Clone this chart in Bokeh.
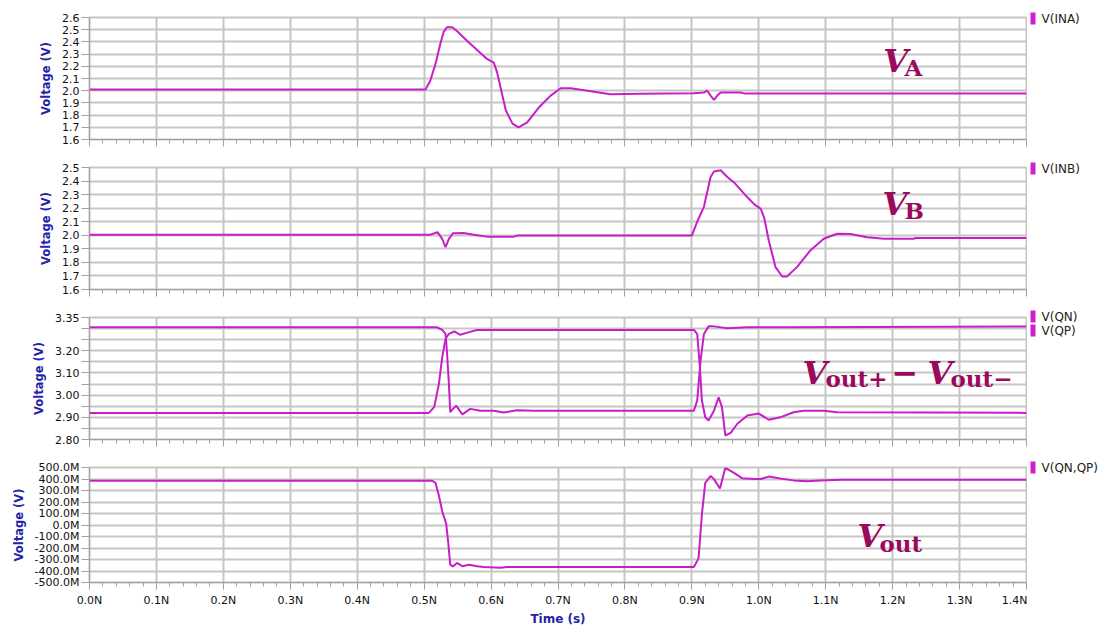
from bokeh.plotting import figure
from bokeh.models import Range1d, FixedTicker, Label
from bokeh.layouts import column, row
from bokeh.core.properties import value
from bokeh.embed import file_html
from bokeh.resources import INLINE

# ---------------- data (time in ns, voltage in V) ----------------
t_ina = [0.0, 0.502, 0.509, 0.517, 0.524, 0.529, 0.534, 0.542, 0.549, 0.564, 0.582, 0.594,
         0.604, 0.609, 0.614, 0.622, 0.632, 0.641, 0.654, 0.671, 0.689, 0.704, 0.719, 0.744,
         0.778, 0.823, 0.903, 0.918, 0.923, 0.928, 0.933, 0.938, 0.943, 0.973, 0.978, 1.4]
v_ina = [2.01, 2.01, 2.08, 2.22, 2.38, 2.48, 2.52, 2.52, 2.49, 2.41, 2.32, 2.26,
         2.23, 2.15, 2.03, 1.84, 1.73, 1.70, 1.74, 1.86, 1.96, 2.02, 2.02, 2.00,
         1.97, 1.975, 1.98, 1.985, 2.0, 1.96, 1.925, 1.96, 1.985, 1.985, 1.978, 1.978]

t_inb = [0.0, 0.509, 0.520, 0.527, 0.532, 0.537, 0.543, 0.559, 0.579, 0.594, 0.634, 0.640,
         0.900, 0.908, 0.918, 0.928, 0.933, 0.943, 0.953, 0.963, 0.983, 0.993, 1.003, 1.008,
         1.015, 1.025, 1.035, 1.042, 1.057, 1.077, 1.097, 1.117, 1.137, 1.162, 1.187, 1.231,
         1.235, 1.4]
v_inb = [2.004, 2.004, 2.023, 1.974, 1.912, 1.974, 2.015, 2.017, 2.0, 1.99, 1.99, 1.998,
         1.998, 2.10, 2.21, 2.43, 2.47, 2.48, 2.43, 2.39, 2.28, 2.23, 2.195, 2.13,
         1.96, 1.765, 1.696, 1.696, 1.765, 1.888, 1.974, 2.011, 2.01, 1.986, 1.974, 1.974,
         1.98, 1.98]

t_qn = [0.0, 0.519, 0.527, 0.532, 0.534, 0.537, 0.539, 0.543, 0.548, 0.557, 0.569, 0.584,
        0.604, 0.619, 0.639, 0.664, 0.903, 0.908, 0.913, 0.918, 0.925, 0.933, 0.953, 0.983,
        1.05, 1.4]
v_qn = [3.306, 3.306, 3.294, 3.276, 3.20, 3.05, 2.923, 2.938, 2.952, 2.913, 2.938, 2.93,
        2.93, 2.922, 2.932, 2.93, 2.93, 2.976, 3.156, 3.276, 3.31, 3.31, 3.302, 3.306,
        3.306, 3.309]

t_qp = [0.0, 0.507, 0.515, 0.522, 0.527, 0.532, 0.537, 0.545, 0.554, 0.567, 0.579, 0.903,
        0.908, 0.912, 0.915, 0.920, 0.925, 0.933, 0.940, 0.945, 0.950, 0.958, 0.968, 0.983,
        1.0, 1.015, 1.032, 1.052, 1.067, 1.097, 1.117, 1.4]
v_qp = [2.92, 2.92, 2.946, 3.05, 3.17, 3.254, 3.276, 3.287, 3.272, 3.284, 3.294, 3.294,
        3.276, 3.126, 2.976, 2.90, 2.886, 2.93, 2.99, 2.946, 2.818, 2.83, 2.871, 2.908,
        2.917, 2.889, 2.90, 2.923, 2.93, 2.93, 2.923, 2.92]

t_out = [0.0, 0.512, 0.517, 0.522, 0.527, 0.533, 0.536, 0.539, 0.543, 0.549, 0.557, 0.567,
         0.579, 0.589, 0.614, 0.624, 0.903, 0.910, 0.915, 0.920, 0.928, 0.933, 0.942, 0.950,
         0.963, 0.975, 0.993, 1.003, 1.015, 1.032, 1.052, 1.072, 1.092, 1.122, 1.4]
v_out = [0.385, 0.385, 0.366, 0.257, 0.12, 0.01, -0.153, -0.344, -0.36, -0.33, -0.358, -0.345,
         -0.358, -0.366, -0.372, -0.366, -0.366, -0.29, 0.093, 0.366, 0.426, 0.399, 0.317, 0.497,
         0.453, 0.407, 0.40, 0.40, 0.421, 0.405, 0.388, 0.38, 0.388, 0.393, 0.393]

# ---------------- ticks / labels ----------------
x_ticks = [0.0, 0.1, 0.2, 0.3, 0.4, 0.5, 0.6, 0.7, 0.8, 0.9, 1.0, 1.1, 1.2, 1.3, 1.4]
x_tick_labels = ["0.0N", "0.1N", "0.2N", "0.3N", "0.4N", "0.5N", "0.6N", "0.7N",
                 "0.8N", "0.9N", "1.0N", "1.1N", "1.2N", "1.3N", "1.4N"]
x_minor = [round(i * 0.02, 2) for i in range(71)]

y1_ticks = [1.6, 1.7, 1.8, 1.9, 2.0, 2.1, 2.2, 2.3, 2.4, 2.5, 2.6]
y1_labels = ["1.6", "1.7", "1.8", "1.9", "2.0", "2.1", "2.2", "2.3", "2.4", "2.5", "2.6"]
y2_ticks = [1.6, 1.7, 1.8, 1.9, 2.0, 2.1, 2.2, 2.3, 2.4, 2.5]
y2_labels = ["1.6", "1.7", "1.8", "1.9", "2.0", "2.1", "2.2", "2.3", "2.4", "2.5"]
y3_ticks = [2.8, 2.85, 2.9, 2.95, 3.0, 3.05, 3.1, 3.15, 3.2, 3.25, 3.3, 3.35]
y3_labels = ["2.80", "", "2.90", "", "3.00", "", "3.10", "", "3.20", "", "", "3.35"]
y4_ticks = [-0.5, -0.4, -0.3, -0.2, -0.1, 0.0, 0.1, 0.2, 0.3, 0.4, 0.5]
y4_labels = ["-500.0M", "-400.0M", "-300.0M", "-200.0M", "-100.0M", "0.0M",
             "100.0M", "200.0M", "300.0M", "400.0M", "500.0M"]

legend1 = ["V(INA)"]
legend2 = ["V(INB)"]
legend3 = ["V(QN)", "V(QP)"]
legend4 = ["V(QN,QP)"]

TRACE = "#C81EC8"
SWATCH = "#D01ED0"
ANNOT = "#9A0A5C"
GRID = "#c6c6c6"
AXIS = "#a0a0a0"
BLUE = "#2323A8"

MAIN_W = 1027
LEG_W = 76


def make_panel(height, yr, yt, yl, top, bottom, last=False):
    p = figure(width=MAIN_W, height=height, x_range=Range1d(0, 1.4), y_range=Range1d(*yr),
               output_backend="svg", toolbar_location=None,
               min_border_left=89, min_border_right=1,
               min_border_top=top, min_border_bottom=bottom)
    p.background_fill_color = "white"
    p.border_fill_color = "white"
    p.outline_line_color = GRID
    p.outline_line_width = 2

    xa = p.xaxis[0]
    xa.ticker = FixedTicker(ticks=x_ticks, minor_ticks=x_minor)
    if last:
        xa.major_label_overrides = dict(zip(x_ticks, x_tick_labels))
        xa.axis_label = "Time (s)"
        xa.axis_label_text_font = "DejaVu Sans"
        xa.axis_label_text_font_style = "bold"
        xa.axis_label_text_font_size = "12px"
        xa.axis_label_text_color = BLUE
        xa.axis_label_standoff = 2
        xa.major_label_text_font = "DejaVu Sans"
        xa.major_label_text_font_size = "11px"
        xa.major_label_text_color = "#111111"
        xa.major_label_standoff = 4
    else:
        xa.major_label_overrides = {t: "" for t in x_ticks}
        xa.major_label_text_font_size = "0px"
        xa.major_label_standoff = 0
    xa.major_tick_out = 7
    xa.major_tick_in = 0
    xa.minor_tick_out = 4
    xa.minor_tick_in = 0
    xa.axis_line_color = AXIS
    xa.major_tick_line_color = AXIS
    xa.minor_tick_line_color = AXIS

    ya = p.yaxis[0]
    ya.ticker = FixedTicker(ticks=yt, minor_ticks=[])
    ya.major_label_overrides = dict(zip(yt, yl))
    ya.axis_label = "Voltage (V)"
    ya.axis_label_text_font = "DejaVu Sans"
    ya.axis_label_text_font_style = "bold"
    ya.axis_label_text_font_size = "11.5px"
    ya.axis_label_text_color = BLUE
    ya.axis_label_standoff = 6
    ya.major_label_text_font = "DejaVu Sans"
    ya.major_label_text_font_size = "11px"
    ya.major_label_text_color = "#111111"
    ya.major_label_standoff = 2
    ya.major_tick_out = 8
    ya.major_tick_in = 0
    ya.minor_tick_line_color = None
    ya.axis_line_color = AXIS
    ya.major_tick_line_color = AXIS

    p.xgrid.ticker = FixedTicker(ticks=x_ticks)
    p.ygrid.ticker = FixedTicker(ticks=yt)
    p.grid.grid_line_color = GRID
    p.grid.grid_line_width = 2
    return p


def add_text(p, x, y, text, size, style):
    p.add_layout(Label(x=x, y=y, text=text, text_font="DejaVu Serif",
                       text_font_size=size, text_font_style=style,
                       text_color=ANNOT, text_align="left", text_baseline="alphabetic"))


def make_legend(height, names, ys):
    # pixel-like coordinate space, y measured from the top of the strip
    lg = figure(width=LEG_W, height=height, x_range=Range1d(0, LEG_W),
                y_range=Range1d(height, 0), x_axis_type=None, y_axis_type=None,
                title=None, title_location=None,
                output_backend="svg", toolbar_location=None,
                min_border_left=0, min_border_right=0, min_border_top=0, min_border_bottom=0)
    lg.frame_align = False
    lg.outline_line_color = None
    lg.background_fill_color = "white"
    lg.border_fill_color = "white"
    lg.rect(x=[5.5] * len(names), y=ys, width=5, height=12,
            fill_color=SWATCH, line_color=None)
    lg.text(x=[14] * len(names), y=ys, text=names, text_baseline="middle",
            text_align="left", text_font=value("DejaVu Sans"),
            text_font_size=value("12px"), text_color="#222222")
    return lg


p1 = make_panel(150, (1.6, 2.6), y1_ticks, y1_labels, 17, 11)
p1.line(t_ina, v_ina, line_color=TRACE, line_width=2)
add_text(p1, 1.186, 2.2475, "V", "32px", "bold italic")
add_text(p1, 1.2177, 2.19, "A", "23px", "bold")
l1 = make_legend(150, legend1, [18])

p2 = make_panel(150, (1.6, 2.5), y2_ticks, y2_labels, 17, 11)
p2.line(t_inb, v_inb, line_color=TRACE, line_width=2)
add_text(p2, 1.185, 2.2344, "V", "32px", "bold italic")
add_text(p2, 1.2177, 2.1828, "B", "23px", "bold")
l2 = make_legend(150, legend2, [18])

p3 = make_panel(150, (2.8, 3.35), y3_ticks, y3_labels, 17, 11)
p3.line(t_qn, v_qn, line_color=TRACE, line_width=2)
p3.line(t_qp, v_qp, line_color=TRACE, line_width=2)
add_text(p3, 1.0653, 3.102, "V", "32px", "bold italic")
add_text(p3, 1.0997, 3.075, "out+", "23px", "bold")
add_text(p3, 1.1983, 3.102, "\u2212", "32px", "bold")
add_text(p3, 1.2521, 3.102, "V", "32px", "bold italic")
add_text(p3, 1.2864, 3.075, "out\u2212", "23px", "bold")
l3 = make_legend(150, legend3, [16, 30])

p4 = make_panel(178, (-0.5, 0.5), y4_ticks, y4_labels, 17, 39, last=True)
p4.line(t_out, v_out, line_color=TRACE, line_width=2)
add_text(p4, 1.1475, -0.0984, "V", "32px", "bold italic")
add_text(p4, 1.1804, -0.164, "out", "23px", "bold")
l4 = make_legend(178, legend4, [17])

layout = column(row(p1, l1, spacing=0), row(p2, l2, spacing=0),
                row(p3, l3, spacing=0), row(p4, l4, spacing=0), spacing=0)
open("out.html", "w").write(file_html(layout, INLINE))
